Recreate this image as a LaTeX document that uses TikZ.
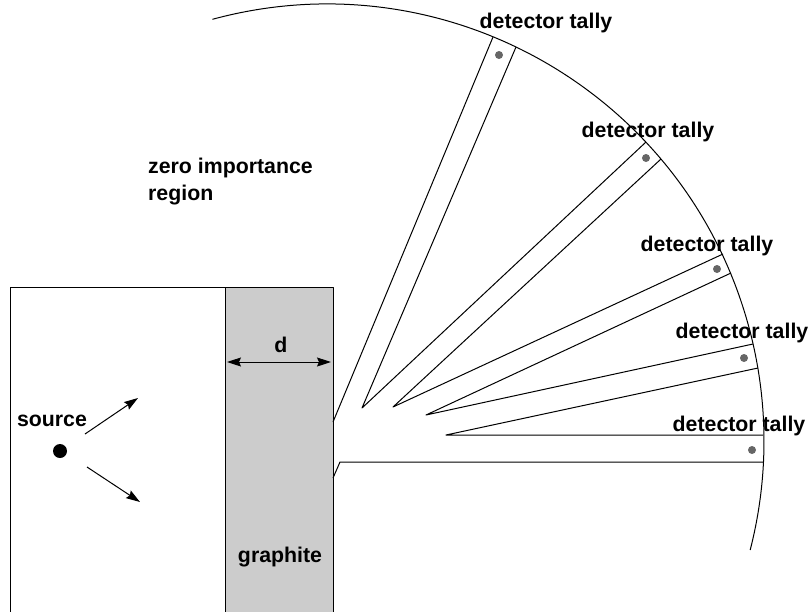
\documentclass[tikz,border=0pt]{standalone}
\usepackage{fontspec}
\setmainfont{Liberation Sans}
\usepackage{xcolor}
\usetikzlibrary{arrows.meta}
\tikzset{
  label_text/.style={font=\fontsize{21.3}{27}\selectfont\bfseries, inner sep=0pt},
  tally_dot/.style={circle, fill=black!60, minimum size=8pt, inner sep=0pt},
  thin_line/.style={line width=1pt, line join=round},
  arrow_line/.style={->, >={Stealth[length=14pt, width=9pt, inset=2pt]}, line width=1pt},
}
\begin{document}
\begin{tikzpicture}[x=1pt, y=-1pt]
            \useasboundingbox (0,0) rectangle (808,611);
            % Regions
            \fill[black!20] (225,287) rectangle (333,640);
            \draw[thin_line] (10,640) -- (10,287) -- (333,287) -- (333,640);
            \draw[thin_line] (225,287) -- (225,640);

            % Sphere boundary
            \coordinate (centre) at (327,441);
            \draw[thin_line] (centre) ++(105.2:437pt) arc[start angle=105.2, end angle=-14.45, radius=437pt];

            % Nodes
            \node[circle, fill=black, minimum size=14pt, inner sep=0pt] (source_dot) at (60,451) {};
            \node[label_text] (source_label) at (52,421) {source};
            \node[label_text] (graphite_label) at (280,557) {graphite};
            \node[label_text] (d_label) at (281,345) {d};
            \node[label_text, align=left, anchor=west] (zero_label) at (148,182) {zero importance\\region};
            \node[label_text] (tally_label_a) at (546,23) {detector tally};
            \node[label_text] (tally_label_b) at (648,132) {detector tally};
            \node[label_text] (tally_label_c) at (707,246) {detector tally};
            \node[label_text] (tally_label_d) at (742,333) {detector tally};
            \node[label_text] (tally_label_e) at (739,426) {detector tally};
            \node[tally_dot] (tally_a) at (499,55) {};
            \node[tally_dot] (tally_b) at (646,158) {};
            \node[tally_dot] (tally_c) at (717,269) {};
            \node[tally_dot] (tally_d) at (744,358) {};
            \node[tally_dot] (tally_e) at (752,450) {};

            % Duct corners
            \coordinate (wall_a) at (333,422);
            \coordinate (wall_b) at (333,478);
            \coordinate (bend) at (340,462);
            \coordinate (apex_a) at (362,408);
            \coordinate (apex_b) at (393,407);
            \coordinate (apex_c) at (426,415);
            \coordinate (apex_d) at (446,435);
            \coordinate (rim_a) at (493,37);
            \coordinate (rim_b) at (516,47);
            \coordinate (rim_c) at (646,142);
            \coordinate (rim_d) at (661,159);
            \coordinate (rim_e) at (723,254);
            \coordinate (rim_f) at (731,273);
            \coordinate (rim_g) at (753,344);
            \coordinate (rim_h) at (758,368);
            \coordinate (rim_i) at (763,435);
            \coordinate (rim_j) at (763,462);

            % Ducts
            \draw[thin_line] (wall_a) -- (rim_a);
            \draw[thin_line] (rim_b) -- (apex_a) -- (rim_c);
            \draw[thin_line] (rim_d) -- (apex_b) -- (rim_e);
            \draw[thin_line] (rim_f) -- (apex_c) -- (rim_g);
            \draw[thin_line] (rim_h) -- (apex_d) -- (rim_i);
            \draw[thin_line] (wall_b) -- (bend) -- (rim_j);

            % Arrows
            \coordinate (ray_a_start) at (85,434);
            \coordinate (ray_a_end) at (138,398);
            \coordinate (ray_b_start) at (87,467);
            \coordinate (ray_b_end) at (140,502);
            \coordinate (d_left) at (227,362);
            \coordinate (d_right) at (331,362);
            \draw[arrow_line] (ray_a_start) -- (ray_a_end);
            \draw[arrow_line] (ray_b_start) -- (ray_b_end);
            \draw[arrow_line, <->] (d_left) -- (d_right);
        \end{tikzpicture}
\end{document}
